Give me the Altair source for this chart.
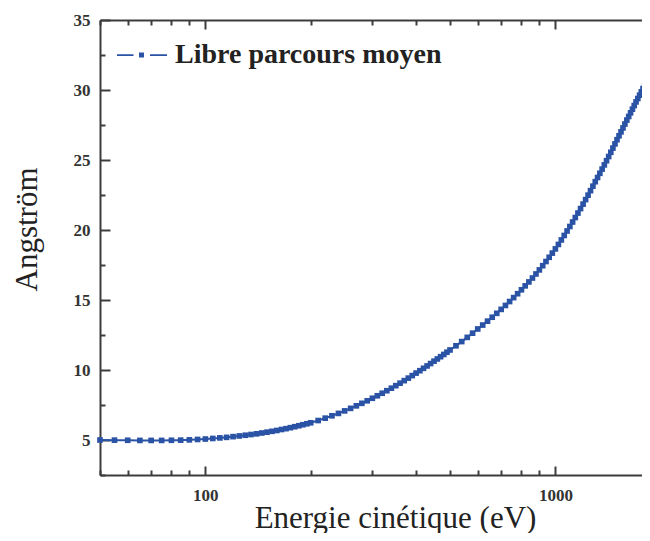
import altair as alt
import pandas as pd

# Kinetic energy (eV) of the plotted markers
energy = [50, 55, 60, 65, 70, 75, 80, 85, 90, 95, 100, 105, 110, 115, 120, 125, 130, 135, 140, 145,
          150, 155, 160, 165, 170, 175, 180, 185, 190, 195, 200,
          210, 220, 230, 240, 250, 260, 270, 280, 290, 300, 310, 320, 330, 340, 350, 360, 370, 380, 390,
          400, 410, 420, 430, 440, 450, 460, 470, 480, 490, 500,
          520, 540, 560, 580, 600, 620, 640, 660, 680, 700, 720, 740, 760, 780, 800, 820, 840, 860, 880,
          900, 920, 940, 960, 980, 1000,
          1020, 1040, 1060, 1080, 1100, 1120, 1140, 1160, 1180, 1200, 1220, 1240, 1260, 1280, 1300,
          1320, 1340, 1360, 1380, 1400, 1420, 1440, 1460, 1480, 1500, 1520, 1540, 1560, 1580, 1600,
          1620, 1640, 1660, 1680, 1700, 1720, 1740, 1760, 1780, 1800, 1820, 1840, 1860]

# Mean free path (Angstrom)
mfp = [5.00, 4.99, 4.98, 4.97, 4.97, 4.97, 4.98, 4.99, 5.01, 5.04, 5.07, 5.11, 5.15, 5.19, 5.24, 5.29, 5.34, 5.39, 5.44, 5.50,
       5.56, 5.62, 5.68, 5.75, 5.81, 5.88, 5.95, 6.02, 6.09, 6.16, 6.23,
       6.39, 6.56, 6.73, 6.90, 7.08, 7.26, 7.44, 7.62, 7.80, 7.98, 8.16, 8.34, 8.52, 8.70, 8.88, 9.06, 9.24, 9.42, 9.60,
       9.78, 9.95, 10.12, 10.29, 10.46, 10.63, 10.79, 10.95, 11.11, 11.27, 11.43,
       11.73, 12.03, 12.33, 12.63, 12.93, 13.21, 13.49, 13.77, 14.05, 14.33, 14.61, 14.89, 15.17, 15.45, 15.73,
       16.01, 16.29, 16.57, 16.86, 17.15, 17.45, 17.75, 18.05, 18.35, 18.65,
       18.97, 19.29, 19.61, 19.93, 20.25, 20.57, 20.89, 21.21, 21.53, 21.85, 22.17, 22.49, 22.81, 23.13, 23.45,
       23.75, 24.05, 24.35, 24.65, 24.95, 25.25, 25.55, 25.85, 26.15, 26.45, 26.73, 27.01, 27.29, 27.57, 27.85,
       28.11, 28.37, 28.63, 28.89, 29.15, 29.39, 29.63, 29.87, 30.11, 30.35, 30.59, 30.83, 31.07]

series_name = "Libre parcours moyen"
x_tick_values = [50, 60, 70, 80, 90, 100, 200, 300, 400, 500, 600, 700, 800, 900, 1000]
y_tick_values = [2.5, 5, 7.5, 10, 12.5, 15, 17.5, 20, 22.5, 25, 27.5, 30, 32.5, 35]

blue = "#2a53a5"
axis_color = "#3c3c3c"
serif = "Liberation Serif"

df = pd.DataFrame({"E": energy, "L": mfp, "serie": [series_name] * len(energy)})

xscale = alt.Scale(type="log", domain=[50, 1768], nice=False)
yscale = alt.Scale(domain=[2.5, 35], nice=False, zero=False)

major_x = "(datum.value == 100 || datum.value == 1000)"
# negative tick sizes (given as expressions) draw the ticks inside the frame
x_tick_expr = {"expr": f"{major_x} ? -9 : -5"}
y_tick_expr = {"expr": "datum.value % 5 == 0 ? -10 : -5"}

x_bottom = alt.Axis(
    values=x_tick_values, format="d",
    labelExpr=f"{major_x} ? datum.label : ''",
    labelFont=serif, labelFontWeight="bold", labelFontSize=17, labelColor="#333333",
    labelPadding=21, tickSize=x_tick_expr, tickWidth=2, tickColor=axis_color,
    domainColor=axis_color, domainWidth=2, grid=False,
    title="Energie cinétique (eV)", titleFont=serif, titleFontSize=31, titleFontWeight="normal",
    titleColor="#222222", titleX=295, titleY=52, titleBaseline="alphabetic",
)

x_top = alt.Axis(
    orient="top", values=x_tick_values, labels=False, tickSize=x_tick_expr, tickWidth=2,
    tickColor=axis_color, domainColor=axis_color, domainWidth=2, grid=False, title=None,
)

y_left = alt.Axis(
    values=y_tick_values,
    labelExpr="datum.value % 5 == 0 ? datum.label : ''",
    labelFont=serif, labelFontWeight="bold", labelFontSize=17, labelColor="#333333",
    labelPadding=20, tickSize=y_tick_expr, tickWidth=2, tickColor=axis_color,
    domainColor=axis_color, domainWidth=2, grid=False,
    title="Angström", titleFont=serif, titleFontSize=31, titleFontWeight="normal",
    titleColor="#222222", titleX=-64, titleY=209, titleBaseline="alphabetic", titleAngle=270,
)

legend_symbol = ("M-1,-0.035H-0.34V0.035H-1Z"
                 "M0.32,-0.035H1V0.035H0.32Z"
                 "M-0.12,-0.1H0.08V0.1H-0.12Z")

legend = alt.Legend(
    orient="none", legendX=17, legendY=10, title=None, padding=0,
    symbolType=legend_symbol, symbolSize=2500, symbolStrokeWidth=0,
    symbolFillColor=blue, symbolStrokeColor=blue,
    labelFont=serif, labelFontSize=28, labelFontWeight="bold", labelColor="#222222",
    labelOffset=8, labelBaseline="middle", labelLimit=600,
)

main = alt.Chart(df).mark_line(
    strokeWidth=2,
    point=alt.OverlayMarkDef(shape="square", filled=True, size=32, color=blue, opacity=1),
).encode(
    x=alt.X("E:Q", scale=xscale, axis=x_bottom),
    y=alt.Y("L:Q", scale=yscale, axis=y_left),
    color=alt.Color("serie:N", scale=alt.Scale(range=[blue]), legend=legend),
)

top = alt.Chart(df).mark_point(opacity=0).encode(
    x=alt.X("E:Q", scale=xscale, axis=x_top),
    y=alt.Y("L:Q", scale=yscale, axis=y_left),
)

chart = alt.layer(main, top).resolve_axis(x="independent").properties(
    width=542, height=455,
    autosize=alt.AutoSizeParams(type="none"),
    padding={"left": 92, "top": 12, "right": 0, "bottom": 58},
    background="white",
).configure_view(strokeWidth=0, stroke="transparent")

chart.save("out.html", embed_options={"renderer": "svg", "actions": False})
